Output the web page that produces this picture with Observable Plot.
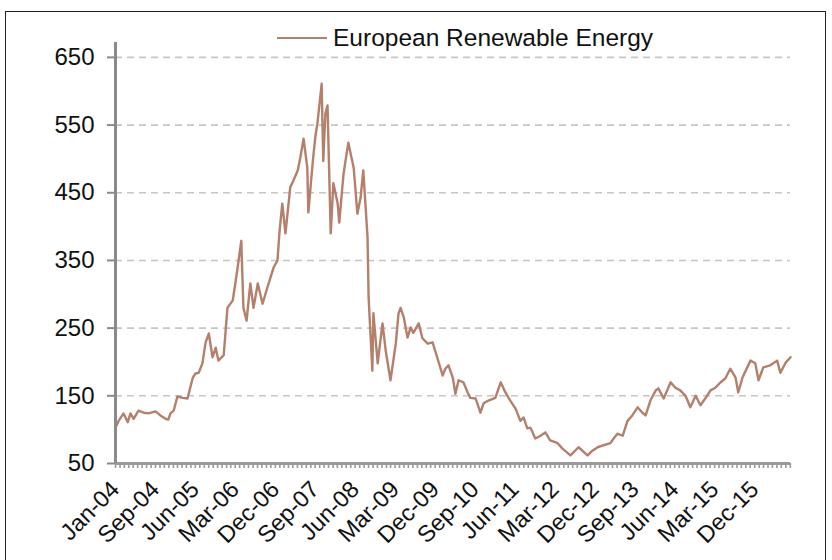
<!DOCTYPE html>
<html>
<head>
<meta charset="utf-8">
<script src="https://cdn.jsdelivr.net/npm/d3@7"></script>
<script src="https://cdn.jsdelivr.net/npm/@observablehq/plot@0.6"></script>
<style>
  body { margin: 0; background: #fff; font-family: "Liberation Sans", Arial, sans-serif; }
  #wrap { position: relative; width: 832px; height: 560px; overflow: hidden; background: #fff; }
  #frame { position: absolute; left: 5px; top: 11px; width: 819px; height: 620px; border: 1.5px solid #222; }
  #chart { position: absolute; left: 0; top: 0; }
  #legend { position: absolute; left: 277px; top: 24px; display: flex; align-items: center; font-size: 24.5px; color: #111; white-space: nowrap; }
  #legend .sw { display: inline-block; width: 50px; height: 2px; background: #b47f6b; margin-right: 6px; }
</style>
</head>
<body>
<div id="wrap">
  <div id="frame"></div>
  <div id="chart"></div>
  <div id="legend"><span class="sw"></span><span id="legendText"></span></div>
</div>
<script>
// ---- data ----
const seriesName = "European Renewable Energy";

// time as decimal years
const years = [
  2004.00,2004.06,2004.15,2004.23,2004.28,2004.34,2004.43,2004.53,2004.62,2004.75,2004.84,2004.94,2004.99,
  2005.03,2005.09,2005.16,2005.26,2005.35,2005.45,2005.50,2005.56,2005.63,2005.69,2005.75,2005.82,2005.88,2005.93,
  2006.03,2006.10,2006.20,2006.25,2006.31,2006.36,2006.40,2006.46,2006.53,2006.59,2006.67,2006.76,2006.85,2006.91,2006.97,
  2007.04,2007.08,2007.13,2007.19,2007.28,2007.34,2007.42,2007.47,2007.53,2007.60,2007.62,2007.70,2007.75,2007.79,
  2007.87,2007.90,2007.94,2007.98,
  2008.04,2008.09,2008.17,2008.20,2008.28,2008.37,2008.47,2008.54,2008.60,2008.65,2008.73,2008.75,2008.82,2008.84,2008.92,
  2009.01,2009.07,2009.16,2009.26,2009.31,2009.35,2009.41,2009.48,2009.54,2009.59,2009.69,2009.76,2009.86,2009.95,
  2010.01,2010.14,2010.19,2010.25,2010.33,2010.38,2010.44,2010.53,2010.61,2010.66,2010.76,2010.85,2010.91,
  2011.00,2011.13,2011.23,2011.32,2011.41,2011.51,2011.60,2011.66,2011.73,2011.79,2011.88,2011.98,
  2012.07,2012.16,2012.30,2012.39,2012.54,2012.69,2012.86,2012.95,
  2013.05,2013.16,2013.29,2013.35,2013.42,2013.52,2013.61,2013.70,2013.80,2013.89,2013.95,
  2014.04,2014.14,2014.19,2014.29,2014.42,2014.51,2014.60,2014.70,2014.79,2014.89,2014.98,
  2015.07,2015.17,2015.26,2015.36,2015.45,2015.54,2015.64,2015.69,2015.77,2015.86,2015.92,
  2016.01,2016.07,2016.16,2016.29,2016.42,2016.48,2016.58,2016.67
];

const values = [
  103,113,124,111,124,116,128,125,124,127,121,116,115,
  124,128,149,147,146,177,183,184,198,229,242,207,221,202,
  210,280,291,317,350,379,280,261,316,280,316,286,310,325,340,
  350,394,434,390,458,468,483,502,530,487,421,493,532,552,
  611,497,567,579,
  390,464,434,406,478,524,487,419,443,483,384,295,187,272,198,
  257,217,173,227,271,280,266,236,251,243,257,235,227,229,
  214,180,190,195,177,153,173,170,155,147,146,125,139,
  143,147,170,155,143,131,113,118,102,103,87,91,
  96,84,80,72,62,74,62,69,
  74,77,80,87,94,91,113,121,133,125,121,
  143,158,161,146,170,162,158,150,133,150,136,
  146,158,162,170,176,190,177,155,177,192,202,
  198,173,192,195,202,184,199,207
];

const yTicks = [50, 150, 250, 350, 450, 550, 650];

const xTickLabels = ["Jan-04","Sep-04","Jun-05","Mar-06","Dec-06","Sep-07","Jun-08","Mar-09","Dec-09",
                     "Sep-10","Jun-11","Mar-12","Dec-12","Sep-13","Jun-14","Mar-15","Dec-15"];

// ---- build ----
function fromDecimalYear(y) {
  const yr = Math.floor(y);
  const a = Date.UTC(yr, 0, 1), b = Date.UTC(yr + 1, 0, 1);
  return new Date(a + (y - yr) * (b - a));
}
const data = years.map((y, i) => ({date: fromDecimalYear(y), value: values[i]}));
const xStart = fromDecimalYear(years[0]);
const xEnd = fromDecimalYear(years[years.length - 1]);
const monthTicks = d3.utcMonth.range(xStart, d3.utcDay.offset(xEnd, 1));
const labelTicks = xTickLabels.map((_, i) => d3.utcMonth.offset(xStart, 9 * i));
const labelByTime = new Map(labelTicks.map((d, i) => [+d, xTickLabels[i]]));

document.getElementById("legendText").textContent = seriesName;

const chart = Plot.plot({
  width: 832,
  height: 560,
  marginLeft: 115,
  marginRight: 42,
  marginTop: 42,
  marginBottom: 97,
  style: {fontFamily: "'Liberation Sans', Arial, sans-serif", fontSize: "23px", background: "transparent", color: "#111", overflow: "visible"},
  x: {type: "utc", domain: [xStart, xEnd]},
  y: {domain: [50, 672]},
  marks: [
    Plot.ruleY(yTicks.filter(d => d > 50), {stroke: "#c6c6c6", strokeWidth: 1.6, strokeDasharray: "7,5"}),
    Plot.axisY(yTicks, {tickSize: 8, tickPadding: 13, stroke: "#8a8a8a", strokeWidth: 2, fill: "#111", label: null, fontSize: 24}),
    Plot.axisX(monthTicks, {tickSize: 5, tickFormat: () => "", stroke: "#9a9a9a", strokeWidth: 1.6, label: null}),
    Plot.axisX(labelTicks, {tickSize: 0, tickPadding: 22, tickRotate: -45, tickFormat: d => labelByTime.get(+d), fill: "#111", label: null, fontSize: 23.5}),
    Plot.line(data, {x: "date", y: "value", stroke: "#b47f6b", strokeWidth: 2.4}),
    Plot.ruleY([50], {stroke: "#9a9a9a", strokeWidth: 3}),
    Plot.ruleX([xStart], {stroke: "#8a8a8a", strokeWidth: 3})
  ]
});
document.getElementById("chart").appendChild(chart);
</script>
</body>
</html>
